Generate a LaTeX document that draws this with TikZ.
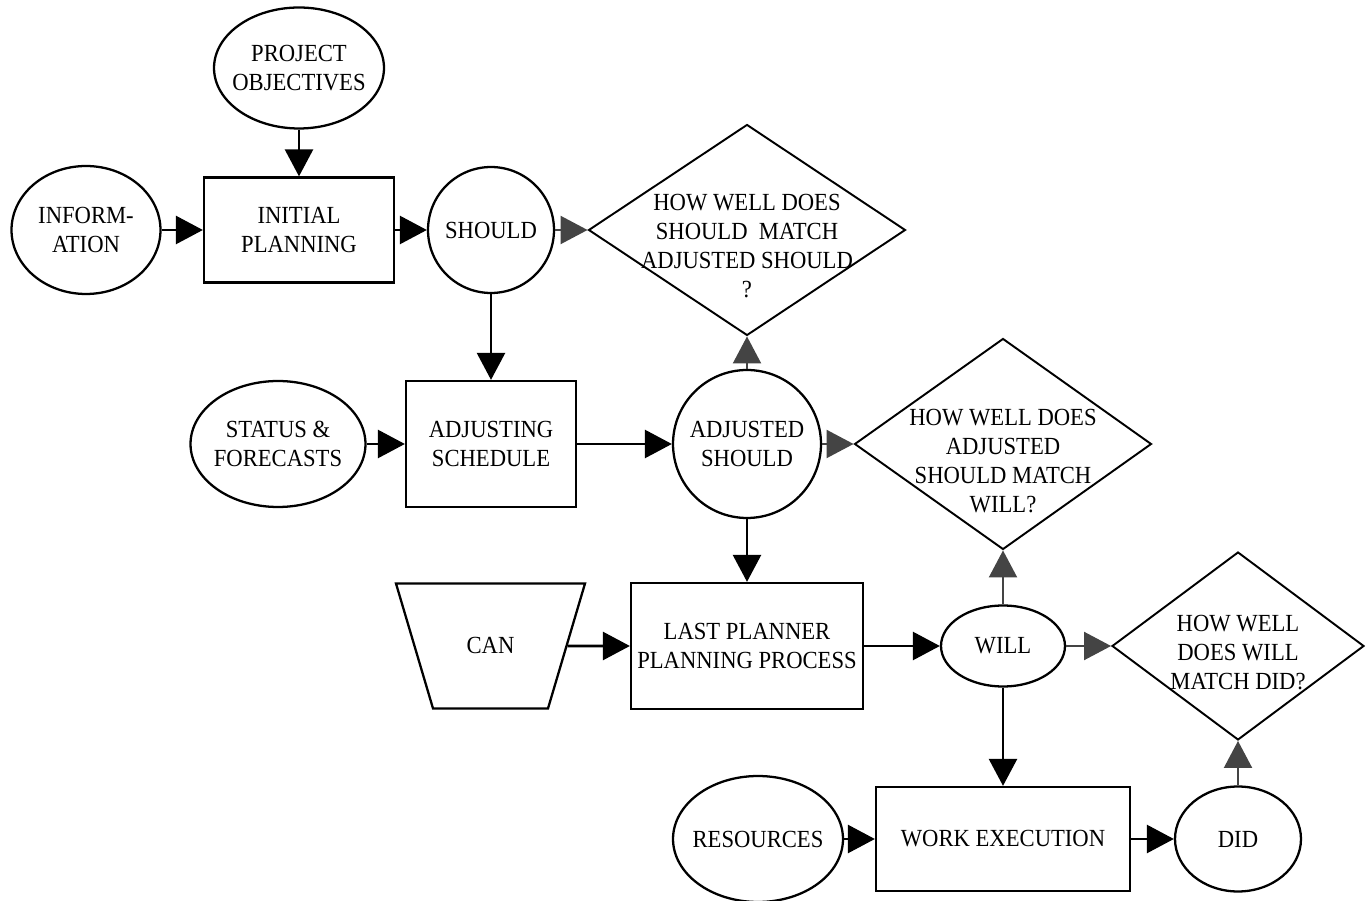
\documentclass[tikz,border=0pt]{standalone}
\usepackage{fontspec}
\setmainfont{Liberation Serif}[FakeStretch=0.92]
\usepackage{tikz}
\usetikzlibrary{positioning,shapes.geometric,arrows.meta}
\definecolor{ashgray}{HTML}{444444}

\begin{document}
\begin{tikzpicture}[x=0.02cm,y=-0.02cm,
        font=\fontsize{14}{16.5}\selectfont,
        box/.style={rectangle,draw,line width=1.3pt,align=center},
        ring/.style={circle,draw,line width=1.3pt,align=center,inner sep=0pt},
        oval/.style={ellipse,draw,line width=1.3pt,inner sep=0pt},
        ask/.style={diamond,draw,line width=1.1pt,inner sep=0pt},
        tag/.style={align=center,inner sep=0pt}]
    \useasboundingbox (0,0) rectangle (1369,901);

    % inputs
    \node[oval,minimum width=3.4cm,minimum height=2.42cm,label={[tag]center:PROJECT\\OBJECTIVES}] (PO) at (299,68) {};
    \node[oval,minimum width=2.98cm,minimum height=2.56cm,label={[tag]center:INFORM-\\ATION}] (INFO) at (86,230) {};
    \node[oval,minimum width=3.5cm,minimum height=2.52cm,label={[tag]center:STATUS \&\\FORECASTS}] (SF) at (278,444) {};
    \node[trapezium,draw,line width=1.3pt,trapezium angle=73.5,shape border rotate=180,
          inner sep=0pt,text width=2.3cm,align=center,
          text height=1.41cm,text depth=1.09cm] (CAN) at (490.5,646) {CAN};
    \node[oval,minimum width=3.4cm,minimum height=2.52cm,label={[tag]center:RESOURCES}] (RES) at (758,839) {};

    % processes
    \node[box,minimum width=3.8cm,minimum height=2.1cm] (IP) at (299,230) {INITIAL\\PLANNING};
    \node[box,minimum width=3.4cm,minimum height=2.52cm] (ADJ) at (491,444) {ADJUSTING\\SCHEDULE};
    \node[box,minimum width=4.64cm,minimum height=2.52cm] (LP) at (747,646) {LAST PLANNER\\PLANNING PROCESS};
    \node[box,minimum width=5.08cm,minimum height=2.08cm] (WE) at (1003,839) {WORK EXECUTION};

    % outcomes
    \node[ring,minimum size=2.52cm] (SH) at (491,230) {SHOULD};
    \node[ring,minimum size=2.96cm] (ASH) at (747,444) {ADJUSTED\\SHOULD};
    \node[oval,minimum width=2.48cm,minimum height=1.62cm,label={[tag]center:WILL}] (WILL) at (1003,646) {};
    \node[oval,minimum width=2.52cm,minimum height=2.1cm,label={[tag]center:DID}] (DID) at (1238,839) {};

    % questions
    \node[ask,minimum width=6.34cm,minimum height=4.22cm,
          label={[tag,yshift=-0.32cm]center:HOW WELL DOES\\SHOULD\ \ MATCH\\ADJUSTED SHOULD\\?}] (Q1) at (747,230) {};
    \node[ask,minimum width=5.94cm,minimum height=4.22cm,
          label={[tag,yshift=-0.34cm]center:HOW WELL DOES\\ADJUSTED\\SHOULD MATCH\\WILL?}] (Q2) at (1003,444) {};
    \node[ask,minimum width=5.04cm,minimum height=3.76cm,
          label={[tag,yshift=-0.14cm]center:HOW WELL\\DOES WILL\\MATCH DID?}] (Q3) at (1238,646) {};

    \begin{scope}[>={Triangle[length=0.54cm,width=0.56cm]},
                  every edge/.style={draw=black,line width=1.5pt}]
        \path [->] (PO) edge (IP);
        \path [->] (INFO) edge (IP);
        \path [->] (IP) edge (SH);
        \path [->] (SH) edge (ADJ);
        \path [->] (SF) edge (ADJ);
        \path [->] (ADJ) edge (ASH);
        \path [->] (ASH) edge (LP);
        \path [->] (CAN) edge (LP);
        \path [->] (LP) edge (WILL);
        \path [->] (WILL) edge (WE);
        \path [->] (RES) edge (WE);
        \path [->] (WE) edge (DID);
    \end{scope}

    \begin{scope}[>={Triangle[length=0.54cm,width=0.56cm]},
                  every edge/.style={draw=ashgray,line width=1.2pt}]
        \path [->] (SH) edge (Q1);
        \path [->] (ASH) edge (Q1);
        \path [->] (ASH) edge (Q2);
        \path [->] (WILL) edge (Q2);
        \path [->] (WILL) edge (Q3);
        \path [->] (DID) edge (Q3);
    \end{scope}
\end{tikzpicture}
\end{document}
